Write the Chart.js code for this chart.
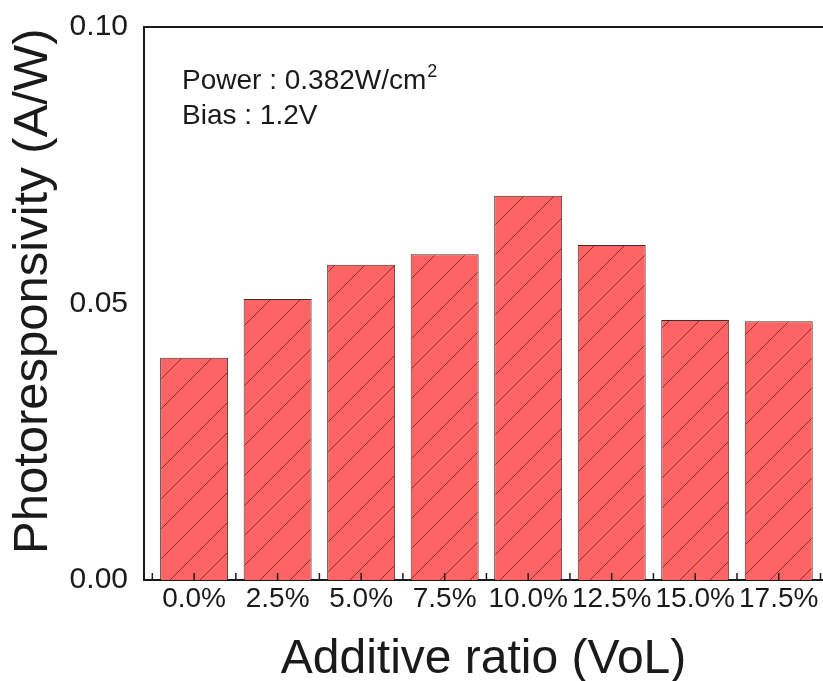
<!DOCTYPE html>
<html><head><meta charset="utf-8">
<script src="https://cdn.jsdelivr.net/npm/chart.js@4.4.1/dist/chart.umd.min.js"></script>
<style>html,body{margin:0;padding:0;background:#fff;overflow:hidden}</style>
</head><body>
<canvas id="c" width="823" height="681"></canvas>
<script>
const categories = ['0.0%','2.5%','5.0%','7.5%','10.0%','12.5%','15.0%','17.5%'];
const photoresponsivity = [0.0402, 0.0508, 0.0570, 0.0589, 0.0695, 0.0606, 0.0470, 0.0468];
const yTickValues = [0, 0.05, 0.10];
const annotationLines = ['Power : 0.382W/cm', 'Bias : 1.2V'];
const annotationSup = '2';
const xTitle = 'Additive ratio (VoL)';
const yTitle = '\u2002Photoresponsivity (A/W)';

const REG = '"Liberation Sans", Arial, sans-serif';

function hatch(){
  const p = document.createElement('canvas'); p.width = 30; p.height = 30;
  const g = p.getContext('2d');
  g.fillStyle = '#ff6464'; g.fillRect(0,0,30,30);
  g.strokeStyle = 'rgba(110,25,25,0.75)'; g.lineWidth = 1;
  g.beginPath(); g.moveTo(-2,32); g.lineTo(32,-2); g.stroke();
  return g.createPattern(p,'repeat');
}

const extras = {
  id: 'extras',
  afterDatasetsDraw(chart){
    const {ctx, chartArea: a, scales: {x}} = chart;
    ctx.save();
    ctx.strokeStyle = '#1a1a1a'; ctx.lineWidth = 1.5;
    for (let i = 0; i <= categories.length; i++) {
      const vals = i < categories.length ? [i - 0.5, i] : [i - 0.5];
      for (const v of vals) {
        const px = x.getPixelForValue(v);
        ctx.beginPath(); ctx.moveTo(px, a.bottom); ctx.lineTo(px, a.bottom - 7); ctx.stroke();
      }
    }
    ctx.lineWidth = 2;
    ctx.beginPath(); ctx.moveTo(a.left, a.top); ctx.lineTo(a.right, a.top); ctx.stroke();
    ctx.fillStyle = '#1a1a1a';
    ctx.font = '28px ' + REG;
    ctx.textBaseline = 'alphabetic';
    ctx.fillText(annotationLines[0], a.left + 38, a.top + 62);
    const w = ctx.measureText(annotationLines[0]).width;
    ctx.font = '18px ' + REG;
    ctx.fillText(annotationSup, a.left + 38 + w + 1, a.top + 50);
    ctx.font = '28px ' + REG;
    ctx.fillText(annotationLines[1], a.left + 38, a.top + 97);
    ctx.restore();
  }
};

new Chart(document.getElementById('c'), {
  type: 'bar',
  data: {
    datasets: [{
      data: photoresponsivity.map((v, i) => ({x: i, y: v})),
      backgroundColor: hatch(),
      borderColor: 'rgba(30,10,10,0.85)',
      borderWidth: 1,
      barPercentage: 0.814,
      categoryPercentage: 1
    }]
  },
  options: {
    responsive: false,
    animation: false,
    layout: {padding: {top: 27, left: 0, right: 0, bottom: 0}},
    plugins: {legend: {display: false}, tooltip: {enabled: false}},
    scales: {
      x: {
        type: 'linear', min: -0.6, max: 7.53, offset: false,
        grid: {display: false, drawTicks: false},
        border: {display: true, color: '#1a1a1a', width: 2},
        afterBuildTicks(s){ s.ticks = categories.map((_, i) => ({value: i})); },
        afterFit(s){ s.height = 101; },
        ticks: {
          autoSkip: false, maxRotation: 0, padding: 2, color: '#1a1a1a',
          font: {family: REG, size: 28},
          callback: (v) => categories[v]
        },
        title: {display: true, text: xTitle, color: '#1a1a1a', padding: 0,
          font: {family: REG, size: 48, lineHeight: 0.867}}
      },
      y: {
        min: 0, max: 0.1,
        grid: {display: false, drawTicks: true, tickLength: 14},
        border: {display: true, color: '#1a1a1a', width: 2},
        afterBuildTicks(s){ s.ticks = yTickValues.map(v => ({value: v})); },
        afterFit(s){ s.width = 144; },
        ticks: {padding: 2, color: '#1a1a1a', font: {family: REG, size: 30},
          callback: (v) => Number(v).toFixed(2)},
        title: {display: true, text: yTitle, color: '#1a1a1a', padding: {top: 4, bottom: 0},
          font: {family: REG, size: 49, lineHeight: 1.2}}
      }
    }
  },
  plugins: [extras]
});
</script>
</body></html>
